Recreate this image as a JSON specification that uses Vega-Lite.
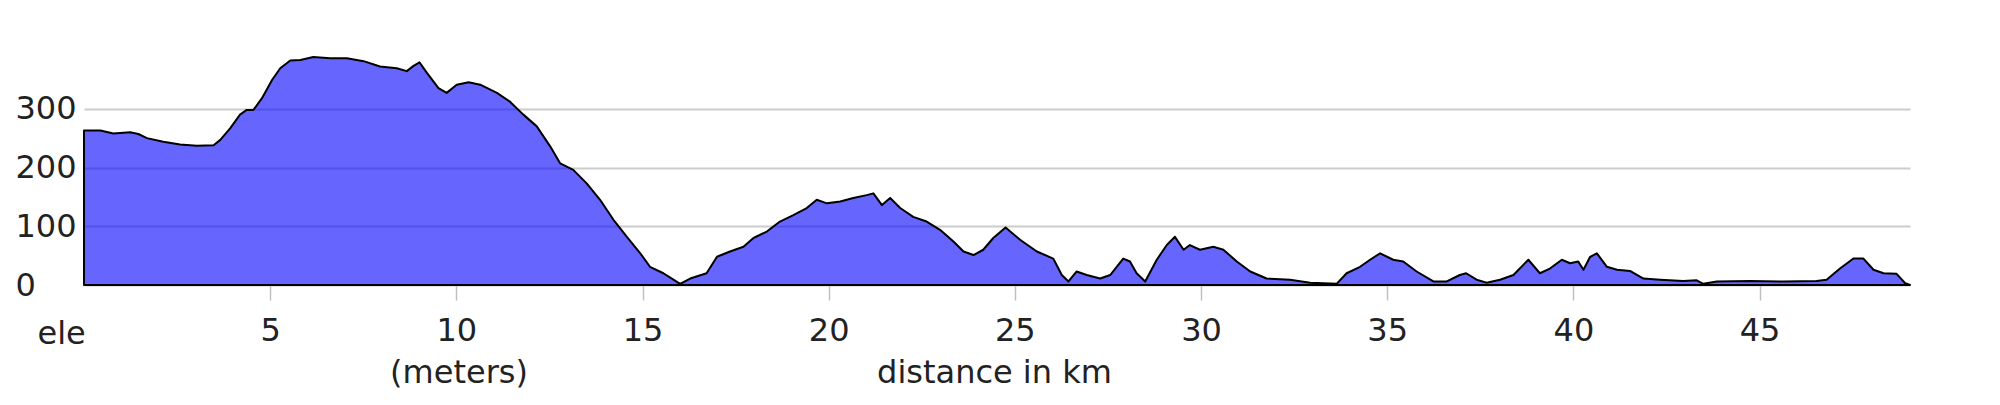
{
  "$schema": "https://vega.github.io/schema/vega-lite/v6.json",
  "width": 1826,
  "height": 235,
  "autosize": {"type": "none"},
  "padding": {"left": 84, "top": 50, "right": 90, "bottom": 120},
  "background": "white",
  "config": {
    "font": "DejaVu Sans",
    "view": {"stroke": null}
  },
  "title": {
    "text": "(meters)",
    "orient": "bottom",
    "anchor": "start",
    "align": "center",
    "frame": "group",
    "dx": 375,
    "offset": -30,
    "fontSize": 32,
    "fontWeight": "normal",
    "color": "#222222",
    "font": "DejaVu Sans"
  },
  "data": {
    "values": [
      {"km": 0, "ele": 263}, {"km": 0.44, "ele": 263}, {"km": 0.79, "ele": 258}, {"km": 1.24, "ele": 260},
      {"km": 1.46, "ele": 257}, {"km": 1.69, "ele": 250}, {"km": 2.13, "ele": 244}, {"km": 2.58, "ele": 239},
      {"km": 3.03, "ele": 237}, {"km": 3.48, "ele": 238}, {"km": 3.66, "ele": 247}, {"km": 3.93, "ele": 267},
      {"km": 4.19, "ele": 290}, {"km": 4.37, "ele": 298}, {"km": 4.55, "ele": 298}, {"km": 4.78, "ele": 318},
      {"km": 5.05, "ele": 349}, {"km": 5.27, "ele": 369}, {"km": 5.54, "ele": 382}, {"km": 5.81, "ele": 383},
      {"km": 6.16, "ele": 388}, {"km": 6.61, "ele": 386}, {"km": 7.06, "ele": 386}, {"km": 7.51, "ele": 381},
      {"km": 7.95, "ele": 372}, {"km": 8.4, "ele": 369}, {"km": 8.67, "ele": 364}, {"km": 8.85, "ele": 373},
      {"km": 9.01, "ele": 379}, {"km": 9.21, "ele": 361}, {"km": 9.52, "ele": 335}, {"km": 9.74, "ele": 327},
      {"km": 10.01, "ele": 341}, {"km": 10.33, "ele": 345}, {"km": 10.64, "ele": 341}, {"km": 11.09, "ele": 327},
      {"km": 11.44, "ele": 312}, {"km": 11.8, "ele": 290}, {"km": 12.16, "ele": 270}, {"km": 12.52, "ele": 236},
      {"km": 12.79, "ele": 207}, {"km": 13.14, "ele": 196}, {"km": 13.5, "ele": 173}, {"km": 13.86, "ele": 145},
      {"km": 14.22, "ele": 111}, {"km": 14.58, "ele": 82}, {"km": 14.94, "ele": 54}, {"km": 15.2, "ele": 31},
      {"km": 15.56, "ele": 20}, {"km": 15.83, "ele": 9}, {"km": 16.01, "ele": 2}, {"km": 16.28, "ele": 11},
      {"km": 16.72, "ele": 20}, {"km": 17.0, "ele": 48}, {"km": 17.35, "ele": 57}, {"km": 17.71, "ele": 65},
      {"km": 17.98, "ele": 80}, {"km": 18.34, "ele": 91}, {"km": 18.69, "ele": 108}, {"km": 19.05, "ele": 119},
      {"km": 19.41, "ele": 131}, {"km": 19.68, "ele": 145}, {"km": 19.95, "ele": 139}, {"km": 20.31, "ele": 142},
      {"km": 20.66, "ele": 148}, {"km": 21.02, "ele": 153}, {"km": 21.2, "ele": 156}, {"km": 21.43, "ele": 136},
      {"km": 21.65, "ele": 148}, {"km": 21.92, "ele": 131}, {"km": 22.27, "ele": 116}, {"km": 22.63, "ele": 108},
      {"km": 22.99, "ele": 94}, {"km": 23.35, "ele": 74}, {"km": 23.62, "ele": 57}, {"km": 23.89, "ele": 51},
      {"km": 24.15, "ele": 60}, {"km": 24.42, "ele": 80}, {"km": 24.75, "ele": 98}, {"km": 25.14, "ele": 77},
      {"km": 25.59, "ele": 57}, {"km": 26.03, "ele": 45}, {"km": 26.26, "ele": 17}, {"km": 26.44, "ele": 6},
      {"km": 26.66, "ele": 23}, {"km": 26.93, "ele": 17}, {"km": 27.29, "ele": 11}, {"km": 27.56, "ele": 17},
      {"km": 27.91, "ele": 45}, {"km": 28.09, "ele": 40}, {"km": 28.27, "ele": 20}, {"km": 28.5, "ele": 6},
      {"km": 28.81, "ele": 43}, {"km": 29.08, "ele": 68}, {"km": 29.3, "ele": 82}, {"km": 29.53, "ele": 60},
      {"km": 29.7, "ele": 68}, {"km": 29.97, "ele": 60}, {"km": 30.33, "ele": 65}, {"km": 30.6, "ele": 60},
      {"km": 30.96, "ele": 40}, {"km": 31.32, "ele": 23}, {"km": 31.76, "ele": 11}, {"km": 32.39, "ele": 9},
      {"km": 32.93, "ele": 4}, {"km": 33.64, "ele": 2}, {"km": 33.91, "ele": 20}, {"km": 34.27, "ele": 31},
      {"km": 34.54, "ele": 43}, {"km": 34.81, "ele": 54}, {"km": 35.16, "ele": 43}, {"km": 35.43, "ele": 40},
      {"km": 35.79, "ele": 23}, {"km": 36.24, "ele": 6}, {"km": 36.6, "ele": 6}, {"km": 36.95, "ele": 17},
      {"km": 37.12, "ele": 20}, {"km": 37.4, "ele": 9}, {"km": 37.67, "ele": 4}, {"km": 38.03, "ele": 9},
      {"km": 38.39, "ele": 17}, {"km": 38.79, "ele": 43}, {"km": 39.1, "ele": 20}, {"km": 39.37, "ele": 28},
      {"km": 39.69, "ele": 43}, {"km": 39.91, "ele": 37}, {"km": 40.13, "ele": 40}, {"km": 40.27, "ele": 26},
      {"km": 40.45, "ele": 48}, {"km": 40.63, "ele": 54}, {"km": 40.9, "ele": 31}, {"km": 41.17, "ele": 26},
      {"km": 41.52, "ele": 24}, {"km": 41.88, "ele": 11}, {"km": 42.33, "ele": 9}, {"km": 42.95, "ele": 7},
      {"km": 43.31, "ele": 8}, {"km": 43.49, "ele": 2}, {"km": 43.85, "ele": 6}, {"km": 44.74, "ele": 7},
      {"km": 45.64, "ele": 6}, {"km": 46.53, "ele": 7}, {"km": 46.8, "ele": 9}, {"km": 47.16, "ele": 28},
      {"km": 47.52, "ele": 45}, {"km": 47.79, "ele": 45}, {"km": 48.06, "ele": 26}, {"km": 48.33, "ele": 20},
      {"km": 48.68, "ele": 19}, {"km": 48.91, "ele": 3}, {"km": 49.04, "ele": 0}
    ]
  },
  "mark": {
    "type": "area",
    "fill": "#0000ff",
    "fillOpacity": 0.6,
    "stroke": "#000000",
    "strokeWidth": 2,
    "strokeJoin": "round"
  },
  "encoding": {
    "x": {
      "field": "km",
      "type": "quantitative",
      "scale": {"domain": [0, 49.04], "nice": false, "zero": false},
      "axis": {
        "values": [5, 10, 15, 20, 25, 30, 35, 40, 45],
        "grid": false,
        "domain": false,
        "ticks": true,
        "tickSize": 15,
        "tickWidth": 1.5,
        "tickColor": "#c0c0c0",
        "labelFontSize": 32,
        "labelColor": "#222222",
        "labelBaseline": "alphabetic",
        "labelPadding": 40,
        "title": "distance in km",
        "titleFontSize": 32,
        "titleFontWeight": "normal",
        "titleColor": "#222222",
        "titleBaseline": "alphabetic",
        "titleAlign": "center",
        "titleX": 910,
        "titleY": 97
      }
    },
    "y": {
      "field": "ele",
      "type": "quantitative",
      "scale": {"domain": [0, 400], "nice": false},
      "axis": {
        "values": [0, 100, 200, 300],
        "grid": true,
        "gridColor": "#cccccc",
        "gridWidth": 2,
        "domain": false,
        "ticks": false,
        "labelFontSize": 32,
        "labelColor": "#222222",
        "labelAlign": "left",
        "labelBaseline": "middle",
        "labelPadding": 69,
        "title": "ele",
        "titleAngle": 0,
        "titleFontSize": 32,
        "titleFontWeight": "normal",
        "titleColor": "#222222",
        "titleAlign": "left",
        "titleBaseline": "alphabetic",
        "titleX": -47,
        "titleY": 293
      }
    }
  }
}
